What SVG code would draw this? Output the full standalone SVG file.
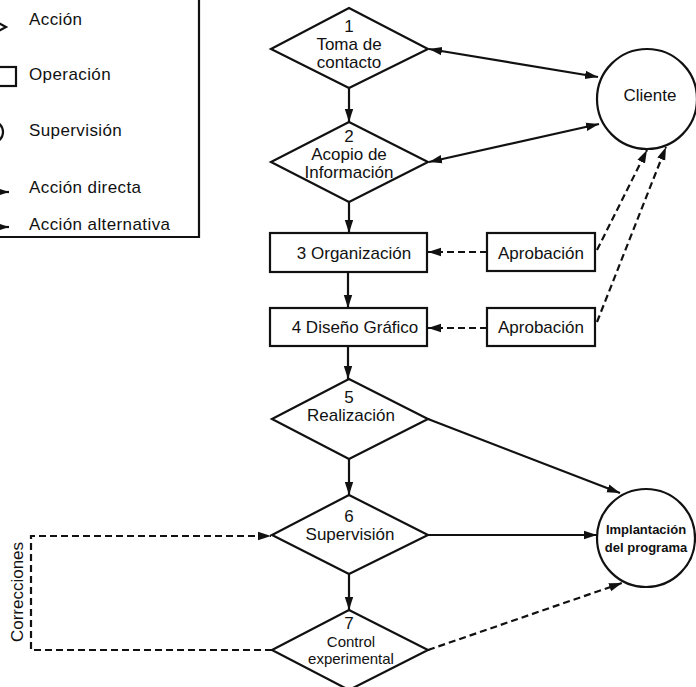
<svg xmlns="http://www.w3.org/2000/svg" width="696" height="687" viewBox="0 0 696 687">
  <style>
    .shape { fill: #ffffff; stroke: #111111; stroke-width: 2.2; }
    .lbl { font-family: "Liberation Sans", Arial, sans-serif; font-size: 17px; fill: #111111; text-anchor: middle; }
    .leg { font-family: "Liberation Sans", Arial, sans-serif; font-size: 17px; fill: #111111; letter-spacing: 0.4px; }
    .small { font-size: 15px; }
    .bold { font-size: 13px; font-weight: bold; }
    .edge { fill: none; stroke: #111111; stroke-width: 2.2; }
    .dash { stroke-dasharray: 7 4; }
  </style>
  <defs>
    <marker id="arrow" markerUnits="userSpaceOnUse" markerWidth="14" markerHeight="10" refX="13" refY="5" orient="auto-start-reverse">
      <path d="M0,0.8 L13,5 L0,9.2 Z" fill="#111111"/>
    </marker>
  </defs>

  <rect width="696" height="687" fill="#ffffff"/>

  <!-- Legend -->
  <g id="legend">
    <path d="M0,237 H199 V0" class="edge" stroke-width="1.6"/>
    <path d="M-20,13 L6,27 L-20,41" class="edge" stroke-width="1.6"/>
    <rect x="-20" y="67" width="36" height="19" class="shape" stroke-width="1.6"/>
    <circle cx="-8" cy="132" r="11" class="shape" stroke-width="1.6"/>
    <line x1="-10" y1="192" x2="9" y2="192" class="edge" marker-end="url(#arrow)"/>
    <line x1="-10" y1="227" x2="9" y2="227" class="edge" marker-end="url(#arrow)"/>
    <text x="29" y="25" class="leg">Acción</text>
    <text x="29" y="80" class="leg">Operación</text>
    <text x="29" y="136" class="leg">Supervisión</text>
    <text x="29" y="193" class="leg">Acción directa</text>
    <text x="29" y="230" class="leg">Acción alternativa</text>
  </g>

  <!-- Connectors -->
  <g id="connectors">
    <line x1="349" y1="88" x2="349" y2="122" class="edge" marker-end="url(#arrow)"/>
    <line x1="349" y1="202" x2="349" y2="233" class="edge" marker-end="url(#arrow)"/>
    <line x1="348" y1="272" x2="348" y2="308" class="edge" marker-end="url(#arrow)"/>
    <line x1="348" y1="346" x2="348" y2="379" class="edge" marker-end="url(#arrow)"/>
    <line x1="349" y1="459" x2="349" y2="495" class="edge" marker-end="url(#arrow)"/>
    <line x1="349" y1="574" x2="349" y2="610" class="edge" marker-end="url(#arrow)"/>

    <line x1="429" y1="49" x2="598" y2="77" class="edge" marker-start="url(#arrow)" marker-end="url(#arrow)"/>
    <line x1="429" y1="162" x2="599" y2="124" class="edge" marker-start="url(#arrow)" marker-end="url(#arrow)"/>

    <line x1="487" y1="252" x2="428" y2="252" class="edge dash" marker-end="url(#arrow)"/>
    <line x1="487" y1="328" x2="428" y2="328" class="edge dash" marker-end="url(#arrow)"/>
    <line x1="597" y1="250" x2="647" y2="150" class="edge dash" marker-end="url(#arrow)"/>
    <line x1="597" y1="322" x2="666" y2="147" class="edge dash" marker-end="url(#arrow)"/>

    <line x1="428" y1="419" x2="620" y2="493" class="edge" marker-end="url(#arrow)"/>
    <line x1="428" y1="535" x2="597" y2="535" class="edge" marker-end="url(#arrow)"/>
    <line x1="428" y1="650" x2="622" y2="583" class="edge dash" marker-end="url(#arrow)"/>

    <path d="M272,650 H31 V536 H271" class="edge dash" marker-end="url(#arrow)"/>
    <text transform="translate(23,592) rotate(-90)" class="lbl" font-size="18">Correcciones</text>
  </g>

  <!-- 1 Toma de contacto -->
  <g id="n1">
    <polygon points="349,8 428,49 349,88 271,49" class="shape"/>
    <text x="349" y="32" class="lbl">1</text>
    <text x="349" y="50" class="lbl">Toma de</text>
    <text x="349" y="68" class="lbl">contacto</text>
  </g>

  <!-- 2 Acopio de Información -->
  <g id="n2">
    <polygon points="349,122 428,162 349,202 271,162" class="shape"/>
    <text x="349" y="142" class="lbl">2</text>
    <text x="349" y="160" class="lbl">Acopio de</text>
    <text x="349" y="178" class="lbl">Información</text>
  </g>

  <!-- 3 Organización -->
  <g id="n3">
    <rect x="270" y="233" width="157" height="39" class="shape"/>
    <text x="354" y="259" class="lbl">3 Organización</text>
  </g>

  <!-- 4 Diseño Gráfico -->
  <g id="n4">
    <rect x="270" y="308" width="157" height="38" class="shape"/>
    <text x="355" y="333" class="lbl">4 Diseño Gráfico</text>
  </g>

  <!-- Aprobación boxes -->
  <g id="ap1">
    <rect x="487" y="233" width="108" height="38" class="shape"/>
    <text x="541" y="259" class="lbl">Aprobación</text>
  </g>
  <g id="ap2">
    <rect x="487" y="308" width="108" height="38" class="shape"/>
    <text x="541" y="333" class="lbl">Aprobación</text>
  </g>

  <!-- Cliente -->
  <g id="cliente">
    <circle cx="647" cy="99" r="50" class="shape"/>
    <text x="650" y="101" class="lbl" font-size="18">Cliente</text>
  </g>

  <!-- 5 Realización -->
  <g id="n5">
    <polygon points="349,379 428,419 349,459 272,419" class="shape"/>
    <text x="349" y="403" class="lbl">5</text>
    <text x="351" y="421" class="lbl">Realización</text>
  </g>

  <!-- 6 Supervisión -->
  <g id="n6">
    <polygon points="349,495 428,535 349,574 272,535" class="shape"/>
    <text x="349" y="522" class="lbl">6</text>
    <text x="350" y="540" class="lbl">Supervisión</text>
  </g>

  <!-- 7 Control experimental -->
  <g id="n7">
    <polygon points="349,610 428,650 349,690 272,650" class="shape"/>
    <text x="349" y="629" class="lbl">7</text>
    <text x="351" y="647" class="lbl small">Control</text>
    <text x="351" y="664" class="lbl small">experimental</text>
  </g>

  <!-- Implantación del programa -->
  <g id="implantacion">
    <circle cx="646" cy="538" r="49" class="shape"/>
    <text x="646" y="534" class="lbl bold">Implantación</text>
    <text x="646" y="552" class="lbl bold">del programa</text>
  </g>
</svg>
